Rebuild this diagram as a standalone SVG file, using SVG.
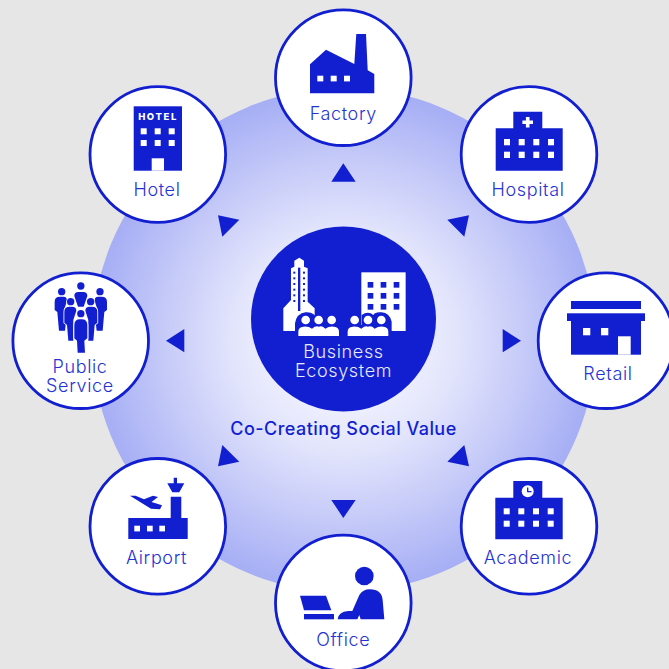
<svg xmlns="http://www.w3.org/2000/svg" width="669" height="669" viewBox="0 0 669 669">
<style>
.b{fill:#111fd1}.w{fill:#fff}
.ring{fill:#fff;stroke:#111fd1;stroke-width:2.8}
text{font-family:"Inter","Liberation Sans",sans-serif;text-anchor:middle}
.l{font-size:18px;fill:#2433d4;font-weight:300;letter-spacing:.65px}
.c{font-size:18px;fill:#e8eaff;font-weight:300;letter-spacing:.65px}
.t{font-size:18px;fill:#111fd1;font-weight:500;letter-spacing:.45px}
</style>
<defs>
<radialGradient id="g" gradientUnits="userSpaceOnUse" cx="344" cy="340" r="252">
<stop offset="0" stop-color="#fff"/><stop offset=".45" stop-color="#e2e4fc"/><stop offset=".8" stop-color="#bcc2f7"/><stop offset="1" stop-color="#a6aef5"/>
</radialGradient>
<path id="back" d="M149 95Q149 80 165 80H176Q186 80 186 92L178 118V150L183 156L180 182H162L157 126L149 120Z"/>
<path id="mid" d="M178 125Q178 110 194 110H201Q214 110 214 122L205 150V212H190L186 165L178 158Z"/>
<path id="trio" d="M0 48V35Q0 20 16 20H106Q122 20 122 35V48Z"/>
</defs>
<rect width="669" height="669" fill="#e6e6e6"/>
<circle cx="344" cy="340" r="252" fill="url(#g)"/>
<g id="connectors" class="b">
<polygon points="343.3,163.3 331.3,181.7 355.7,181.7"/>
<polygon points="218,215.3 239.3,219.7 222.3,236.7"/>
<polygon points="469,215.3 447.3,219.7 464.3,236.7"/>
<polygon points="222.3,445 239.3,461.7 218,466.3"/>
<polygon points="464.3,445 447.3,461.7 469,466.3"/>
<polygon points="331.3,500 355.7,500 343.3,518"/>
<polygon points="184.3,329 184.3,352.3 166,340.7"/>
<polygon points="502.7,329 502.7,352.3 521,340.7"/>
</g>
<text class="t" x="343.5" y="435">Co-Creating Social Value</text>
<g id="center">
<circle cx="343.5" cy="319" r="92.5" class="b"/>
<g transform="translate(240 220) scale(.3333)">
<path class="w" d="M178 113L192 122V140L203 145V245L224 265V333H130V265L153 240V145L163 140V122Z"/>
<g class="b"><rect x="174" y="143" width="7" height="130"/>
<rect x="160" y="155" width="6" height="6"/><rect x="160" y="172" width="6" height="6"/><rect x="160" y="189" width="6" height="6"/><rect x="160" y="206" width="6" height="6"/><rect x="160" y="223" width="6" height="6"/><rect x="160" y="240" width="6" height="6"/>
<rect x="189" y="155" width="6" height="6"/><rect x="189" y="172" width="6" height="6"/><rect x="189" y="189" width="6" height="6"/><rect x="189" y="206" width="6" height="6"/><rect x="189" y="223" width="6" height="6"/><rect x="189" y="240" width="6" height="6"/></g>
<rect class="w" x="364" y="157" width="133" height="176"/>
<g class="b"><rect x="383" y="186" width="17" height="17"/><rect x="422" y="186" width="17" height="17"/><rect x="461" y="186" width="17" height="17"/><rect x="383" y="219" width="17" height="17"/><rect x="422" y="219" width="17" height="17"/><rect x="461" y="219" width="17" height="17"/><rect x="383" y="252" width="17" height="17"/><rect x="422" y="252" width="17" height="17"/><rect x="461" y="252" width="17" height="17"/></g>
<path class="b" d="M165 345H305V325H232V300Q225 275 197 277Q170 280 165 310ZM315 345H455V305Q448 278 425 277Q405 275 400 285Q385 272 365 285V315H315Z"/>
<g class="w">
<circle cx="197" cy="300" r="13"/><circle cx="236" cy="300" r="13"/><circle cx="275" cy="300" r="13"/>
<path d="M175 348V335Q175 322 190 320Q205 318 216 326Q228 316 236 320Q246 316 256 326Q268 318 282 320Q297 322 297 335V348Z"/>
<circle cx="344" cy="300" r="13"/><circle cx="384" cy="300" r="13"/><circle cx="424" cy="300" r="13"/>
<path d="M323 348V335Q323 322 338 320Q353 318 364 326Q376 316 384 320Q394 316 404 326Q416 318 430 320Q445 322 445 335V348Z"/>
</g>
</g>
<text class="c" x="343.5" y="358">Business</text>
<text class="c" x="343.5" y="377">Ecosystem</text>
</g>
<g id="factory">
<circle class="ring" cx="343.3" cy="77.7" r="67.8"/>
<path class="b" d="M310 64.3L326 49.7L354.3 64L356.3 34H366L367.7 70.3L374.3 74V93.3H310Z"/>
<g class="w"><rect x="317.3" y="75.7" width="6" height="5.7"/><rect x="330.7" y="75.7" width="6" height="5.7"/><rect x="344" y="75.7" width="6" height="5.7"/></g>
<text class="l" x="343.3" y="120">Factory</text>
</g>
<g id="hotel">
<circle class="ring" cx="157.8" cy="154.5" r="67.8"/>
<rect class="b" x="133.7" y="106.3" width="48.3" height="64.4"/>
<rect class="w" x="151.7" y="158.3" width="12.3" height="12.4"/>
<text x="158" y="120" style="font-size:9.5px;font-weight:800;fill:#fff;letter-spacing:1.6px">HOTEL</text>
<g class="w"><rect x="140.7" y="128.3" width="6" height="6"/><rect x="154.7" y="128.3" width="6" height="6"/><rect x="168.7" y="128.3" width="6" height="6"/><rect x="140.7" y="140" width="6" height="6"/><rect x="154.7" y="140" width="6" height="6"/><rect x="168.7" y="140" width="6" height="6"/></g>
<text class="l" x="157" y="196">Hotel</text>
</g>
<g id="hospital">
<circle class="ring" cx="529" cy="154.5" r="67.8"/>
<path class="b" d="M513.3 111.7H542.3V128.3H562.7V170.7H495.7V128.3H513.3Z"/>
<path class="w" d="M525.9 117H529.5V120.5H533V124.1H529.5V127.6H525.9V124.1H522.4V120.5H525.9Z"/>
<g class="w"><rect x="504" y="139" width="6" height="6.3"/><rect x="518.7" y="139" width="6" height="6.3"/><rect x="533.3" y="139" width="6" height="6.3"/><rect x="548" y="139" width="6" height="6.3"/><rect x="504" y="151.7" width="6" height="6.3"/><rect x="518.7" y="151.7" width="6" height="6.3"/><rect x="533.3" y="151.7" width="6" height="6.3"/><rect x="548" y="151.7" width="6" height="6.3"/></g>
<text class="l" x="528" y="196">Hospital</text>
</g>
<g id="public-service">
<circle class="ring" cx="80.7" cy="340.7" r="67.8"/>
<g transform="translate(5 270) scale(.3333)" class="b">
<circle cx="170" cy="65" r="11"/><circle cx="227.5" cy="48" r="11"/><circle cx="285" cy="65" r="11"/>
<path d="M208 78Q208 66 220 66H235Q247 66 247 78L236 110H219Z"/>
<use href="#back"/><use href="#back" transform="translate(455 0) scale(-1 1)"/>
<g stroke="#fff" stroke-width="5" paint-order="stroke"><use href="#mid"/><use href="#mid" transform="translate(455 0) scale(-1 1)"/>
<circle cx="197" cy="95" r="11"/><circle cx="257" cy="95" r="11"/></g>
<g stroke="#fff" stroke-width="6" paint-order="stroke">
<path d="M208 165Q208 148 225 148H230Q247 148 247 165V205L238 212L240 248H218L216 212L208 205Z"/>
<circle cx="227.5" cy="131" r="11"/></g>
</g>
<text class="l" x="80" y="373">Public</text>
<text class="l" x="80" y="392">Service</text>
</g>
<g id="retail">
<circle class="ring" cx="606" cy="340.7" r="67.8"/>
<g class="b"><rect x="571" y="301" width="70" height="8"/><rect x="567" y="313.3" width="78" height="7.7"/><rect x="571" y="321" width="70" height="33.7"/></g>
<g class="w"><rect x="618" y="336.3" width="12.7" height="18.4"/><rect x="583" y="328" width="7.3" height="7.3"/><rect x="601" y="328" width="7.3" height="7.3"/></g>
<text class="l" x="608" y="380">Retail</text>
</g>
<g id="airport">
<circle class="ring" cx="157.8" cy="526.3" r="67.8"/>
<g class="b">
<path d="M128.3 518H170.7V496.7H181.3V518H187.7V539H128.3Z"/>
<path d="M167.3 483.3H173.7V477.7H177V483.3H184.3L179.3 492.3H172.3Z"/>
<path d="M130 495.8H135.5L144 499.2L153 495.8L158 497L151.5 502L162 505.3L160 509.3L151 508.8Z"/>
</g>
<g class="w"><rect x="134.3" y="525.7" width="5.7" height="5.7"/><rect x="147" y="525.7" width="5.7" height="5.7"/><rect x="159.3" y="525.7" width="5.7" height="5.7"/></g>
<text class="l" x="156.5" y="564">Airport</text>
</g>
<g id="academic">
<circle class="ring" cx="529" cy="526.3" r="67.8"/>
<path class="b" d="M513.3 481H542.3V497.7H562.7V539.3H495.3V497.7H513.3Z"/>
<circle class="w" cx="527.7" cy="491.3" r="6"/>
<path d="M527.7 487.5V491.7H531.5" fill="none" stroke="#111fd1" stroke-width="1.3"/>
<g class="w"><rect x="503.7" y="508.3" width="6" height="6"/><rect x="518.3" y="508.3" width="6" height="6"/><rect x="533" y="508.3" width="6" height="6"/><rect x="547.7" y="508.3" width="6" height="6"/><rect x="503.7" y="520.7" width="6" height="6"/><rect x="518.3" y="520.7" width="6" height="6"/><rect x="533" y="520.7" width="6" height="6"/><rect x="547.7" y="520.7" width="6" height="6"/></g>
<text class="l" x="528" y="564">Academic</text>
</g>
<g id="office">
<circle class="ring" cx="343.3" cy="603" r="67.8"/>
<g transform="translate(270 530) scale(.3333)" class="b">
<circle cx="283" cy="138" r="28"/>
<path d="M203 268Q205 245 235 243H247L268 195Q278 178 300 178Q335 178 338 210L343 268H272L268 255L262 268Z"/>
<path d="M90 197H168L184 241H102Z"/>
<rect x="102" y="252" width="90" height="16"/>
</g>
<text class="l" x="343.3" y="646">Office</text>
</g>
</svg>
